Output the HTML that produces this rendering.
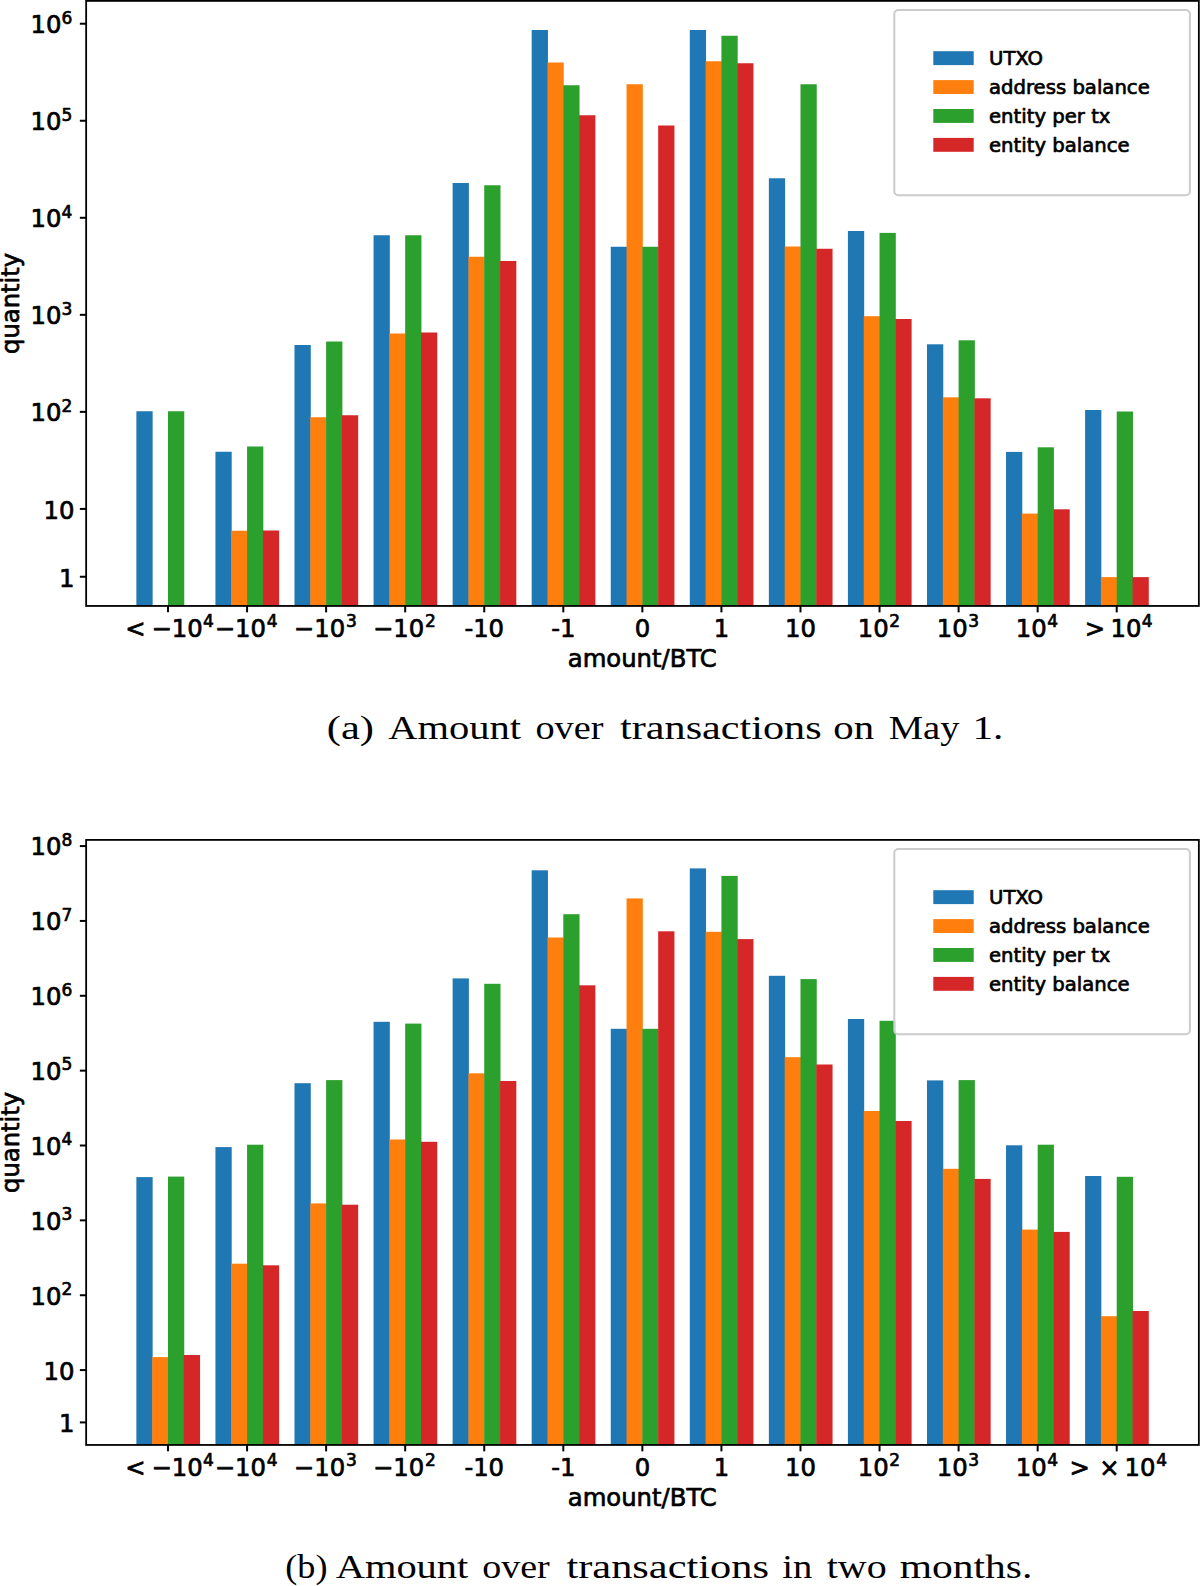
<!DOCTYPE html>
<html><head><meta charset="utf-8"><title>Amount over transactions</title>
<style>html,body{margin:0;padding:0;background:#fff}svg{display:block}.t{font-family:"DejaVu Sans","Liberation Sans",sans-serif;fill:#000;stroke:#000;stroke-width:0.7px;stroke-linejoin:round}.c{font-family:"Liberation Serif","DejaVu Serif",serif;fill:#000}</style></head><body>
<svg width="1200" height="1586" viewBox="0 0 1200 1586">
<rect width="1200" height="1586" fill="#fff"/>
<rect x="136.38" y="411.25" width="16.26" height="194.7" fill="#1f77b4"/>
<rect x="168" y="411.25" width="16.26" height="194.7" fill="#2ca02c"/>
<rect x="215.44" y="451.75" width="16.26" height="154.2" fill="#1f77b4"/>
<rect x="231.25" y="530.75" width="16.26" height="75.2" fill="#ff7f0e"/>
<rect x="247.06" y="446.5" width="16.26" height="159.45" fill="#2ca02c"/>
<rect x="262.87" y="530.5" width="16.26" height="75.45" fill="#d62728"/>
<rect x="294.5" y="345" width="16.26" height="260.95" fill="#1f77b4"/>
<rect x="310.31" y="417.25" width="16.26" height="188.7" fill="#ff7f0e"/>
<rect x="326.12" y="341.5" width="16.26" height="264.45" fill="#2ca02c"/>
<rect x="341.93" y="415.25" width="16.26" height="190.7" fill="#d62728"/>
<rect x="373.56" y="235.25" width="16.26" height="370.7" fill="#1f77b4"/>
<rect x="389.37" y="333.5" width="16.26" height="272.45" fill="#ff7f0e"/>
<rect x="405.18" y="235.25" width="16.26" height="370.7" fill="#2ca02c"/>
<rect x="420.99" y="332.5" width="16.26" height="273.45" fill="#d62728"/>
<rect x="452.62" y="183" width="16.26" height="422.95" fill="#1f77b4"/>
<rect x="468.43" y="256.75" width="16.26" height="349.2" fill="#ff7f0e"/>
<rect x="484.24" y="185.25" width="16.26" height="420.7" fill="#2ca02c"/>
<rect x="500.05" y="261" width="16.26" height="344.95" fill="#d62728"/>
<rect x="531.68" y="30" width="16.26" height="575.95" fill="#1f77b4"/>
<rect x="547.49" y="62.5" width="16.26" height="543.45" fill="#ff7f0e"/>
<rect x="563.3" y="85.25" width="16.26" height="520.7" fill="#2ca02c"/>
<rect x="579.11" y="115.25" width="16.26" height="490.7" fill="#d62728"/>
<rect x="610.74" y="246.75" width="16.26" height="359.2" fill="#1f77b4"/>
<rect x="626.55" y="84.25" width="16.26" height="521.7" fill="#ff7f0e"/>
<rect x="642.36" y="246.75" width="16.26" height="359.2" fill="#2ca02c"/>
<rect x="658.17" y="125.5" width="16.26" height="480.45" fill="#d62728"/>
<rect x="689.8" y="30" width="16.26" height="575.95" fill="#1f77b4"/>
<rect x="705.61" y="61.25" width="16.26" height="544.7" fill="#ff7f0e"/>
<rect x="721.42" y="35.75" width="16.26" height="570.2" fill="#2ca02c"/>
<rect x="737.23" y="63.25" width="16.26" height="542.7" fill="#d62728"/>
<rect x="768.86" y="178.25" width="16.26" height="427.7" fill="#1f77b4"/>
<rect x="784.67" y="246.5" width="16.26" height="359.45" fill="#ff7f0e"/>
<rect x="800.48" y="84.25" width="16.26" height="521.7" fill="#2ca02c"/>
<rect x="816.29" y="248.75" width="16.26" height="357.2" fill="#d62728"/>
<rect x="847.92" y="231" width="16.26" height="374.95" fill="#1f77b4"/>
<rect x="863.73" y="316.2" width="16.26" height="289.75" fill="#ff7f0e"/>
<rect x="879.54" y="232.9" width="16.26" height="373.05" fill="#2ca02c"/>
<rect x="895.35" y="319" width="16.26" height="286.95" fill="#d62728"/>
<rect x="926.98" y="344.3" width="16.26" height="261.65" fill="#1f77b4"/>
<rect x="942.79" y="397.3" width="16.26" height="208.65" fill="#ff7f0e"/>
<rect x="958.6" y="340.3" width="16.26" height="265.65" fill="#2ca02c"/>
<rect x="974.41" y="398.3" width="16.26" height="207.65" fill="#d62728"/>
<rect x="1006.04" y="451.9" width="16.26" height="154.05" fill="#1f77b4"/>
<rect x="1021.85" y="513.6" width="16.26" height="92.35" fill="#ff7f0e"/>
<rect x="1037.66" y="447.3" width="16.26" height="158.65" fill="#2ca02c"/>
<rect x="1053.47" y="509.3" width="16.26" height="96.65" fill="#d62728"/>
<rect x="1085.1" y="410" width="16.26" height="195.95" fill="#1f77b4"/>
<rect x="1100.91" y="577.1" width="16.26" height="28.85" fill="#ff7f0e"/>
<rect x="1116.72" y="411.5" width="16.26" height="194.45" fill="#2ca02c"/>
<rect x="1132.53" y="577.1" width="16.26" height="28.85" fill="#d62728"/>
<line x1="168" y1="605.95" x2="168" y2="612.35" stroke="#000" stroke-width="2"/>
<line x1="247.06" y1="605.95" x2="247.06" y2="612.35" stroke="#000" stroke-width="2"/>
<line x1="326.12" y1="605.95" x2="326.12" y2="612.35" stroke="#000" stroke-width="2"/>
<line x1="405.18" y1="605.95" x2="405.18" y2="612.35" stroke="#000" stroke-width="2"/>
<line x1="484.24" y1="605.95" x2="484.24" y2="612.35" stroke="#000" stroke-width="2"/>
<line x1="563.3" y1="605.95" x2="563.3" y2="612.35" stroke="#000" stroke-width="2"/>
<line x1="642.36" y1="605.95" x2="642.36" y2="612.35" stroke="#000" stroke-width="2"/>
<line x1="721.42" y1="605.95" x2="721.42" y2="612.35" stroke="#000" stroke-width="2"/>
<line x1="800.48" y1="605.95" x2="800.48" y2="612.35" stroke="#000" stroke-width="2"/>
<line x1="879.54" y1="605.95" x2="879.54" y2="612.35" stroke="#000" stroke-width="2"/>
<line x1="958.6" y1="605.95" x2="958.6" y2="612.35" stroke="#000" stroke-width="2"/>
<line x1="1037.66" y1="605.95" x2="1037.66" y2="612.35" stroke="#000" stroke-width="2"/>
<line x1="1116.72" y1="605.95" x2="1116.72" y2="612.35" stroke="#000" stroke-width="2"/>
<line x1="79.85" y1="576.74" x2="86.15" y2="576.74" stroke="#000" stroke-width="2"/>
<text class="t" x="74.4" y="586.54" font-size="24.3" text-anchor="end">1</text>
<line x1="79.85" y1="508.91" x2="86.15" y2="508.91" stroke="#000" stroke-width="2"/>
<text class="t" x="74.4" y="518.71" font-size="24.3" text-anchor="end">10</text>
<line x1="79.85" y1="411.87" x2="86.15" y2="411.87" stroke="#000" stroke-width="2"/>
<text class="t" x="72.3" y="421.17" font-size="24.3" text-anchor="end">10<tspan font-size="17.0" dy="-9.5">2</tspan></text>
<line x1="79.85" y1="314.83" x2="86.15" y2="314.83" stroke="#000" stroke-width="2"/>
<text class="t" x="72.3" y="324.13" font-size="24.3" text-anchor="end">10<tspan font-size="17.0" dy="-9.5">3</tspan></text>
<line x1="79.85" y1="217.79" x2="86.15" y2="217.79" stroke="#000" stroke-width="2"/>
<text class="t" x="72.3" y="227.09" font-size="24.3" text-anchor="end">10<tspan font-size="17.0" dy="-9.5">4</tspan></text>
<line x1="79.85" y1="120.75" x2="86.15" y2="120.75" stroke="#000" stroke-width="2"/>
<text class="t" x="72.3" y="130.05" font-size="24.3" text-anchor="end">10<tspan font-size="17.0" dy="-9.5">5</tspan></text>
<line x1="79.85" y1="23.71" x2="86.15" y2="23.71" stroke="#000" stroke-width="2"/>
<text class="t" x="72.3" y="33.01" font-size="24.3" text-anchor="end">10<tspan font-size="17.0" dy="-9.5">6</tspan></text>
<rect x="86.15" y="0.9" width="1112.7" height="605.05" fill="none" stroke="#000" stroke-width="1.8"/>
<text class="t" x="125.3" y="636.6" font-size="24.3">&lt;</text>
<text class="t" x="151.4" y="636.6" font-size="24.3">−10</text>
<text class="t" x="203" y="627.1" font-size="17.0">4</text>
<text class="t" x="214.76" y="636.6" font-size="24.3">−10</text>
<text class="t" x="266.86" y="627.1" font-size="17.0">4</text>
<text class="t" x="293.82" y="636.6" font-size="24.3">−10</text>
<text class="t" x="345.92" y="627.1" font-size="17.0">3</text>
<text class="t" x="372.88" y="636.6" font-size="24.3">−10</text>
<text class="t" x="424.98" y="627.1" font-size="17.0">2</text>
<text class="t" x="484.24" y="636.6" font-size="24.3" text-anchor="middle">-10</text>
<text class="t" x="563.3" y="636.6" font-size="24.3" text-anchor="middle">-1</text>
<text class="t" x="642.36" y="636.6" font-size="24.3" text-anchor="middle">0</text>
<text class="t" x="721.42" y="636.6" font-size="24.3" text-anchor="middle">1</text>
<text class="t" x="800.48" y="636.6" font-size="24.3" text-anchor="middle">10</text>
<text class="t" x="857.74" y="636.6" font-size="24.3">10</text>
<text class="t" x="889.24" y="627.1" font-size="17.0">2</text>
<text class="t" x="936.8" y="636.6" font-size="24.3">10</text>
<text class="t" x="968.3" y="627.1" font-size="17.0">3</text>
<text class="t" x="1015.86" y="636.6" font-size="24.3">10</text>
<text class="t" x="1047.36" y="627.1" font-size="17.0">4</text>
<text class="t" x="1084.8" y="636.6" font-size="24.3">&gt;</text>
<text class="t" x="1110.5" y="636.6" font-size="24.3">10</text>
<text class="t" x="1141.8" y="627.1" font-size="17.0">4</text>
<text class="t" x="642.3" y="667.2" font-size="24.3" text-anchor="middle">amount/BTC</text>
<text class="t" transform="translate(19.3 303.4) rotate(-90)" font-size="24.3" text-anchor="middle">quantity</text>
<rect x="894.3" y="10.1" width="295.6" height="185.2" rx="4" ry="4" fill="#fff" fill-opacity="0.8" stroke="#ccc" stroke-width="2"/>
<rect x="933.3" y="51.2" width="40.4" height="13.9" fill="#1f77b4"/>
<text class="t" x="989.0" y="65.1" font-size="19.65">UTXO</text>
<rect x="933.3" y="80.1" width="40.4" height="13.9" fill="#ff7f0e"/>
<text class="t" x="989.0" y="94" font-size="19.65">address balance</text>
<rect x="933.3" y="109" width="40.4" height="13.9" fill="#2ca02c"/>
<text class="t" x="989.0" y="122.9" font-size="19.65">entity per tx</text>
<rect x="933.3" y="137.9" width="40.4" height="13.9" fill="#d62728"/>
<text class="t" x="989.0" y="151.8" font-size="19.65">entity balance</text>
<rect x="136.38" y="1177.1" width="16.26" height="267.85" fill="#1f77b4"/>
<rect x="152.19" y="1357.1" width="16.26" height="87.85" fill="#ff7f0e"/>
<rect x="168" y="1176.6" width="16.26" height="268.35" fill="#2ca02c"/>
<rect x="183.81" y="1355" width="16.26" height="89.95" fill="#d62728"/>
<rect x="215.44" y="1147.1" width="16.26" height="297.85" fill="#1f77b4"/>
<rect x="231.25" y="1263.7" width="16.26" height="181.25" fill="#ff7f0e"/>
<rect x="247.06" y="1144.7" width="16.26" height="300.25" fill="#2ca02c"/>
<rect x="262.87" y="1265.3" width="16.26" height="179.65" fill="#d62728"/>
<rect x="294.5" y="1083.2" width="16.26" height="361.75" fill="#1f77b4"/>
<rect x="310.31" y="1203.4" width="16.26" height="241.55" fill="#ff7f0e"/>
<rect x="326.12" y="1080.1" width="16.26" height="364.85" fill="#2ca02c"/>
<rect x="341.93" y="1204.7" width="16.26" height="240.25" fill="#d62728"/>
<rect x="373.56" y="1021.8" width="16.26" height="423.15" fill="#1f77b4"/>
<rect x="389.37" y="1139.5" width="16.26" height="305.45" fill="#ff7f0e"/>
<rect x="405.18" y="1023.6" width="16.26" height="421.35" fill="#2ca02c"/>
<rect x="420.99" y="1141.8" width="16.26" height="303.15" fill="#d62728"/>
<rect x="452.62" y="978.4" width="16.26" height="466.55" fill="#1f77b4"/>
<rect x="468.43" y="1073.3" width="16.26" height="371.65" fill="#ff7f0e"/>
<rect x="484.24" y="983.8" width="16.26" height="461.15" fill="#2ca02c"/>
<rect x="500.05" y="1081" width="16.26" height="363.95" fill="#d62728"/>
<rect x="531.68" y="870.3" width="16.26" height="574.65" fill="#1f77b4"/>
<rect x="547.49" y="937.5" width="16.26" height="507.45" fill="#ff7f0e"/>
<rect x="563.3" y="914.2" width="16.26" height="530.75" fill="#2ca02c"/>
<rect x="579.11" y="985.3" width="16.26" height="459.65" fill="#d62728"/>
<rect x="610.74" y="1028.8" width="16.26" height="416.15" fill="#1f77b4"/>
<rect x="626.55" y="898.4" width="16.26" height="546.55" fill="#ff7f0e"/>
<rect x="642.36" y="1028.8" width="16.26" height="416.15" fill="#2ca02c"/>
<rect x="658.17" y="931.3" width="16.26" height="513.65" fill="#d62728"/>
<rect x="689.8" y="868.4" width="16.26" height="576.55" fill="#1f77b4"/>
<rect x="705.61" y="931.8" width="16.26" height="513.15" fill="#ff7f0e"/>
<rect x="721.42" y="875.9" width="16.26" height="569.05" fill="#2ca02c"/>
<rect x="737.23" y="939.1" width="16.26" height="505.85" fill="#d62728"/>
<rect x="768.86" y="975.8" width="16.26" height="469.15" fill="#1f77b4"/>
<rect x="784.67" y="1057.2" width="16.26" height="387.75" fill="#ff7f0e"/>
<rect x="800.48" y="979.1" width="16.26" height="465.85" fill="#2ca02c"/>
<rect x="816.29" y="1064.5" width="16.26" height="380.45" fill="#d62728"/>
<rect x="847.92" y="1019" width="16.26" height="425.95" fill="#1f77b4"/>
<rect x="863.73" y="1111" width="16.26" height="333.95" fill="#ff7f0e"/>
<rect x="879.54" y="1020.8" width="16.26" height="424.15" fill="#2ca02c"/>
<rect x="895.35" y="1121" width="16.26" height="323.95" fill="#d62728"/>
<rect x="926.98" y="1080.4" width="16.26" height="364.55" fill="#1f77b4"/>
<rect x="942.79" y="1168.8" width="16.26" height="276.15" fill="#ff7f0e"/>
<rect x="958.6" y="1080.1" width="16.26" height="364.85" fill="#2ca02c"/>
<rect x="974.41" y="1178.9" width="16.26" height="266.05" fill="#d62728"/>
<rect x="1006.04" y="1145.3" width="16.26" height="299.65" fill="#1f77b4"/>
<rect x="1021.85" y="1229.6" width="16.26" height="215.35" fill="#ff7f0e"/>
<rect x="1037.66" y="1144.7" width="16.26" height="300.25" fill="#2ca02c"/>
<rect x="1053.47" y="1231.9" width="16.26" height="213.05" fill="#d62728"/>
<rect x="1085.1" y="1176" width="16.26" height="268.95" fill="#1f77b4"/>
<rect x="1100.91" y="1316.2" width="16.26" height="128.75" fill="#ff7f0e"/>
<rect x="1116.72" y="1176.8" width="16.26" height="268.15" fill="#2ca02c"/>
<rect x="1132.53" y="1311" width="16.26" height="133.95" fill="#d62728"/>
<line x1="168" y1="1444.95" x2="168" y2="1451.35" stroke="#000" stroke-width="2"/>
<line x1="247.06" y1="1444.95" x2="247.06" y2="1451.35" stroke="#000" stroke-width="2"/>
<line x1="326.12" y1="1444.95" x2="326.12" y2="1451.35" stroke="#000" stroke-width="2"/>
<line x1="405.18" y1="1444.95" x2="405.18" y2="1451.35" stroke="#000" stroke-width="2"/>
<line x1="484.24" y1="1444.95" x2="484.24" y2="1451.35" stroke="#000" stroke-width="2"/>
<line x1="563.3" y1="1444.95" x2="563.3" y2="1451.35" stroke="#000" stroke-width="2"/>
<line x1="642.36" y1="1444.95" x2="642.36" y2="1451.35" stroke="#000" stroke-width="2"/>
<line x1="721.42" y1="1444.95" x2="721.42" y2="1451.35" stroke="#000" stroke-width="2"/>
<line x1="800.48" y1="1444.95" x2="800.48" y2="1451.35" stroke="#000" stroke-width="2"/>
<line x1="879.54" y1="1444.95" x2="879.54" y2="1451.35" stroke="#000" stroke-width="2"/>
<line x1="958.6" y1="1444.95" x2="958.6" y2="1451.35" stroke="#000" stroke-width="2"/>
<line x1="1037.66" y1="1444.95" x2="1037.66" y2="1451.35" stroke="#000" stroke-width="2"/>
<line x1="1116.72" y1="1444.95" x2="1116.72" y2="1451.35" stroke="#000" stroke-width="2"/>
<line x1="79.85" y1="1422.41" x2="86.15" y2="1422.41" stroke="#000" stroke-width="2"/>
<text class="t" x="74.4" y="1432.21" font-size="24.3" text-anchor="end">1</text>
<line x1="79.85" y1="1370.09" x2="86.15" y2="1370.09" stroke="#000" stroke-width="2"/>
<text class="t" x="74.4" y="1379.89" font-size="24.3" text-anchor="end">10</text>
<line x1="79.85" y1="1295.23" x2="86.15" y2="1295.23" stroke="#000" stroke-width="2"/>
<text class="t" x="72.3" y="1304.53" font-size="24.3" text-anchor="end">10<tspan font-size="17.0" dy="-9.5">2</tspan></text>
<line x1="79.85" y1="1220.37" x2="86.15" y2="1220.37" stroke="#000" stroke-width="2"/>
<text class="t" x="72.3" y="1229.67" font-size="24.3" text-anchor="end">10<tspan font-size="17.0" dy="-9.5">3</tspan></text>
<line x1="79.85" y1="1145.51" x2="86.15" y2="1145.51" stroke="#000" stroke-width="2"/>
<text class="t" x="72.3" y="1154.81" font-size="24.3" text-anchor="end">10<tspan font-size="17.0" dy="-9.5">4</tspan></text>
<line x1="79.85" y1="1070.65" x2="86.15" y2="1070.65" stroke="#000" stroke-width="2"/>
<text class="t" x="72.3" y="1079.95" font-size="24.3" text-anchor="end">10<tspan font-size="17.0" dy="-9.5">5</tspan></text>
<line x1="79.85" y1="995.79" x2="86.15" y2="995.79" stroke="#000" stroke-width="2"/>
<text class="t" x="72.3" y="1005.09" font-size="24.3" text-anchor="end">10<tspan font-size="17.0" dy="-9.5">6</tspan></text>
<line x1="79.85" y1="920.93" x2="86.15" y2="920.93" stroke="#000" stroke-width="2"/>
<text class="t" x="72.3" y="930.23" font-size="24.3" text-anchor="end">10<tspan font-size="17.0" dy="-9.5">7</tspan></text>
<line x1="79.85" y1="846.07" x2="86.15" y2="846.07" stroke="#000" stroke-width="2"/>
<text class="t" x="72.3" y="855.37" font-size="24.3" text-anchor="end">10<tspan font-size="17.0" dy="-9.5">8</tspan></text>
<rect x="86.15" y="839.9" width="1112.7" height="605.05" fill="none" stroke="#000" stroke-width="1.8"/>
<text class="t" x="125.3" y="1475.6" font-size="24.3">&lt;</text>
<text class="t" x="151.4" y="1475.6" font-size="24.3">−10</text>
<text class="t" x="203" y="1466.1" font-size="17.0">4</text>
<text class="t" x="214.76" y="1475.6" font-size="24.3">−10</text>
<text class="t" x="266.86" y="1466.1" font-size="17.0">4</text>
<text class="t" x="293.82" y="1475.6" font-size="24.3">−10</text>
<text class="t" x="345.92" y="1466.1" font-size="17.0">3</text>
<text class="t" x="372.88" y="1475.6" font-size="24.3">−10</text>
<text class="t" x="424.98" y="1466.1" font-size="17.0">2</text>
<text class="t" x="484.24" y="1475.6" font-size="24.3" text-anchor="middle">-10</text>
<text class="t" x="563.3" y="1475.6" font-size="24.3" text-anchor="middle">-1</text>
<text class="t" x="642.36" y="1475.6" font-size="24.3" text-anchor="middle">0</text>
<text class="t" x="721.42" y="1475.6" font-size="24.3" text-anchor="middle">1</text>
<text class="t" x="800.48" y="1475.6" font-size="24.3" text-anchor="middle">10</text>
<text class="t" x="857.74" y="1475.6" font-size="24.3">10</text>
<text class="t" x="889.24" y="1466.1" font-size="17.0">2</text>
<text class="t" x="936.8" y="1475.6" font-size="24.3">10</text>
<text class="t" x="968.3" y="1466.1" font-size="17.0">3</text>
<text class="t" x="1015.86" y="1475.6" font-size="24.3">10</text>
<text class="t" x="1047.36" y="1466.1" font-size="17.0">4</text>
<text class="t" x="1069.4" y="1475.6" font-size="24.3">&gt;</text>
<text class="t" x="1099.3" y="1475.6" font-size="24.3">×</text>
<text class="t" x="1124.6" y="1475.6" font-size="24.3">10</text>
<text class="t" x="1156.3" y="1466.1" font-size="17.0">4</text>
<text class="t" x="642.3" y="1506.2" font-size="24.3" text-anchor="middle">amount/BTC</text>
<text class="t" transform="translate(19.3 1142.4) rotate(-90)" font-size="24.3" text-anchor="middle">quantity</text>
<rect x="894.3" y="849.1" width="295.6" height="185.2" rx="4" ry="4" fill="#fff" fill-opacity="0.8" stroke="#ccc" stroke-width="2"/>
<rect x="933.3" y="890.2" width="40.4" height="13.9" fill="#1f77b4"/>
<text class="t" x="989.0" y="904.1" font-size="19.65">UTXO</text>
<rect x="933.3" y="919.1" width="40.4" height="13.9" fill="#ff7f0e"/>
<text class="t" x="989.0" y="933" font-size="19.65">address balance</text>
<rect x="933.3" y="948" width="40.4" height="13.9" fill="#2ca02c"/>
<text class="t" x="989.0" y="961.9" font-size="19.65">entity per tx</text>
<rect x="933.3" y="976.9" width="40.4" height="13.9" fill="#d62728"/>
<text class="t" x="989.0" y="990.8" font-size="19.65">entity balance</text>
<text class="c" x="326.83" y="739.2" font-size="33.6" textLength="47.17" lengthAdjust="spacingAndGlyphs">(a)</text>
<text class="c" x="388.23" y="739.2" font-size="33.6" textLength="132.79" lengthAdjust="spacingAndGlyphs">Amount</text>
<text class="c" x="535.51" y="739.2" font-size="33.6" textLength="67.97" lengthAdjust="spacingAndGlyphs">over</text>
<text class="c" x="620" y="739.2" font-size="33.6" textLength="201.64" lengthAdjust="spacingAndGlyphs">transactions</text>
<text class="c" x="833.3" y="739.2" font-size="33.6" textLength="40.83" lengthAdjust="spacingAndGlyphs">on</text>
<text class="c" x="888.71" y="739.2" font-size="33.6" textLength="70.84" lengthAdjust="spacingAndGlyphs">May</text>
<text class="c" x="972.41" y="739.2" font-size="33.6" textLength="30.98" lengthAdjust="spacingAndGlyphs">1.</text>
<text class="c" x="285.28" y="1577.5" font-size="33.6" textLength="42.17" lengthAdjust="spacingAndGlyphs">(b)</text>
<text class="c" x="335.71" y="1577.5" font-size="33.6" textLength="132.61" lengthAdjust="spacingAndGlyphs">Amount</text>
<text class="c" x="482.3" y="1577.5" font-size="33.6" textLength="67.46" lengthAdjust="spacingAndGlyphs">over</text>
<text class="c" x="566.45" y="1577.5" font-size="33.6" textLength="202.57" lengthAdjust="spacingAndGlyphs">transactions</text>
<text class="c" x="782.26" y="1577.5" font-size="33.6" textLength="30.06" lengthAdjust="spacingAndGlyphs">in</text>
<text class="c" x="826.72" y="1577.5" font-size="33.6" textLength="59.99" lengthAdjust="spacingAndGlyphs">two</text>
<text class="c" x="899.87" y="1577.5" font-size="33.6" textLength="132.49" lengthAdjust="spacingAndGlyphs">months.</text>
</svg></body></html>
